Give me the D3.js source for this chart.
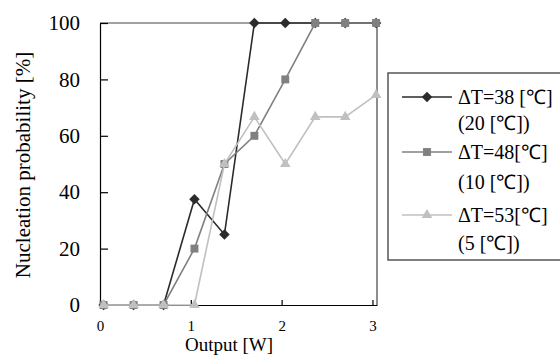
<!DOCTYPE html>
<html>
<head>
<meta charset="utf-8">
<script src="https://cdn.jsdelivr.net/npm/d3@7.9.0/dist/d3.min.js"></script>
<style>
  body { margin: 0; background: #fff; }
  svg text { font-family: "Liberation Serif", "Times New Roman", Times, serif; }
</style>
</head>
<body>
<svg id="chart" width="560" height="355"></svg>
<script>
// output [W] of each measurement
const outputs = [0.04, 0.37, 0.70, 1.04, 1.37, 1.70, 2.04, 2.37, 2.70, 3.04];

// nucleation probability [%] per series
const dT38 = [0, 0, 0, 37.5, 25, 100, 100, 100, 100, 100];
const dT48 = [0, 0, 0, 20, 50, 60, 80, 100, 100, 100];
const dT53 = [0, 0, 0, 0, 50, 66.7, 50, 66.7, 66.7, 74.5];

const seriesNames = ['ΔT=38 [℃]', 'ΔT=48[℃]', 'ΔT=53[℃]'];
const seriesSub = ['(20 [℃])', '(10 [℃])', '(5 [℃])'];
const yTicks = [0, 20, 40, 60, 80, 100];
const xTicks = [0, 1, 2, 3];

const series = [
  { name: seriesNames[0], sub: seriesSub[0], values: dT38, color: '#2b2b2b', symbol: d3.symbolDiamond2, size: 70 },
  { name: seriesNames[1], sub: seriesSub[1], values: dT48, color: '#808080', symbol: d3.symbolSquare2, size: 80 },
  { name: seriesNames[2], sub: seriesSub[2], values: dT53, color: '#c0c0c0', symbol: d3.symbolTriangle2, size: 80 },
];

const svg = d3.select('#chart');

const plot = { left: 100, right: 377, top: 23, bottom: 305 };

const x = d3.scaleLinear().domain([0, 3.05]).range([plot.left, plot.right]);
const y = d3.scaleLinear().domain([0, 100]).range([plot.bottom, plot.top]);

// frame top and right
svg.append('path')
  .attr('d', `M${plot.left},${plot.top}H${plot.right}V${plot.bottom}`)
  .attr('fill', 'none')
  .attr('stroke', '#444')
  .attr('stroke-width', 1.2);

// y axis
const yAxis = svg.append('g')
  .attr('transform', `translate(${plot.left},0)`)
  .call(d3.axisLeft(y).tickValues(yTicks).tickSizeInner(-8).tickSizeOuter(0).tickPadding(20));
yAxis.attr('font-family', null);
yAxis.selectAll('text').attr('font-size', 21).attr('fill', '#000');
yAxis.selectAll('line, path').attr('stroke', '#000').attr('stroke-width', 1.2);

// x axis
const xAxis = svg.append('g')
  .attr('transform', `translate(0,${plot.bottom})`)
  .call(d3.axisBottom(x).tickValues(xTicks).tickFormat(d3.format('d'))
    .tickSizeInner(-5).tickSizeOuter(0).tickPadding(15));
xAxis.attr('font-family', null);
xAxis.selectAll('text').attr('font-size', 15).attr('fill', '#000');
xAxis.selectAll('line, path').attr('stroke', '#000').attr('stroke-width', 1.2);

// axis titles
svg.append('text')
  .attr('transform', `translate(30,${(plot.top + plot.bottom) / 2 + 1}) rotate(-90)`)
  .attr('text-anchor', 'middle')
  .attr('font-size', 21)
  .text('Nucleation probability [%]');

svg.append('text')
  .attr('x', 229)
  .attr('y', 351)
  .attr('text-anchor', 'middle')
  .attr('font-size', 19)
  .text('Output [W]');

// lines and markers
const line = d3.line()
  .x((d, i) => x(outputs[i]))
  .y((d) => y(d));

series.forEach((s) => {
  const g = svg.append('g');
  g.append('path')
    .datum(s.values)
    .attr('d', line)
    .attr('fill', 'none')
    .attr('stroke', s.color)
    .attr('stroke-width', 1.6);
  g.selectAll('path.m')
    .data(s.values)
    .join('path')
    .attr('class', 'm')
    .attr('transform', (d, i) => `translate(${x(outputs[i])},${y(d)})`)
    .attr('d', d3.symbol(s.symbol, s.size))
    .attr('fill', s.color);
});

// legend
const legend = svg.append('g');
legend.append('rect')
  .attr('x', 388)
  .attr('y', 73)
  .attr('width', 200)
  .attr('height', 187)
  .attr('fill', '#fff')
  .attr('stroke', '#555')
  .attr('stroke-width', 1.5);

const rowY = [97, 152, 215];
const subY = [123, 182, 243];

series.forEach((s, i) => {
  legend.append('line')
    .attr('x1', 402).attr('x2', 452)
    .attr('y1', rowY[i]).attr('y2', rowY[i])
    .attr('stroke', s.color)
    .attr('stroke-width', 1.6);
  legend.append('path')
    .attr('transform', `translate(427,${rowY[i]})`)
    .attr('d', d3.symbol(s.symbol, s.size))
    .attr('fill', s.color);
  legend.append('text')
    .attr('x', 458)
    .attr('y', rowY[i])
    .attr('dy', '0.35em')
    .attr('font-size', 20)
    .text(s.name);
  legend.append('text')
    .attr('x', 458)
    .attr('y', subY[i])
    .attr('dy', '0.35em')
    .attr('font-size', 20)
    .text(s.sub);
});
</script>
</body>
</html>
